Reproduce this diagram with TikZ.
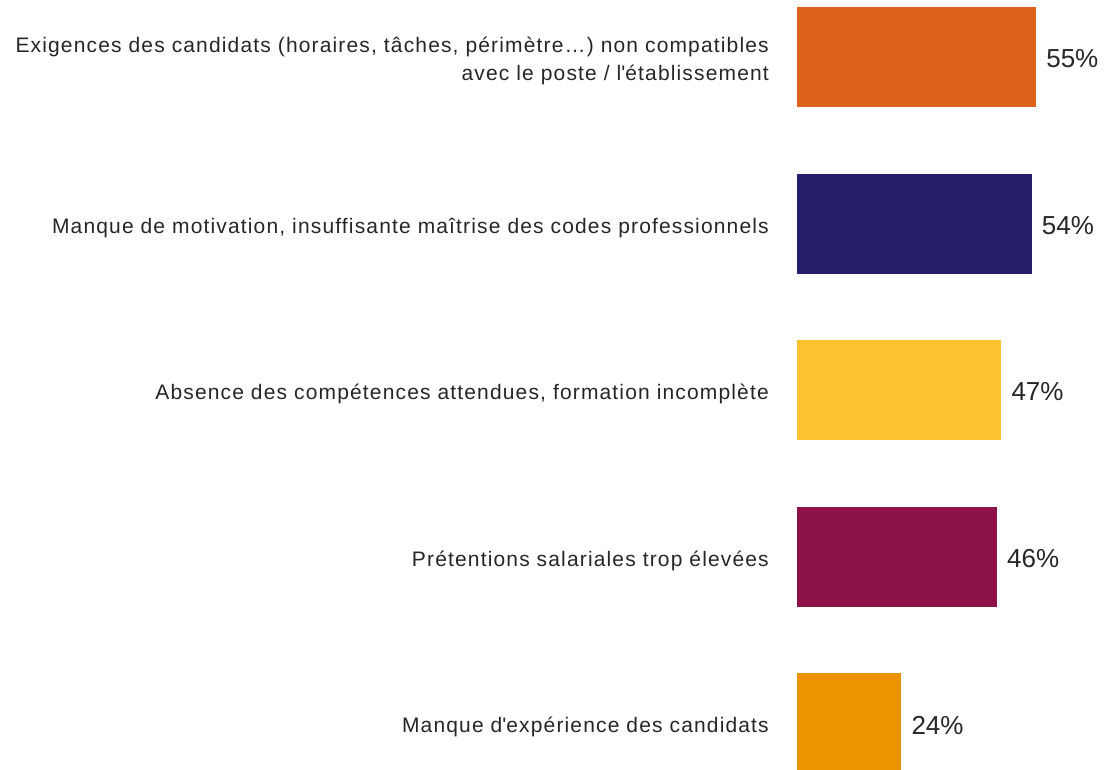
\documentclass[tikz,border=0pt]{standalone}
\usepackage{fontspec}
\setmainfont{Liberation Sans}
\newfontfamily\labfont{Liberation Sans}[LetterSpace=5.5]
\usetikzlibrary{positioning}
\definecolor{barA}{HTML}{DE611A}
\definecolor{barB}{HTML}{261E6A}
\definecolor{barC}{HTML}{FDC232}
\definecolor{barD}{HTML}{8C1248}
\definecolor{barE}{HTML}{EC9300}
\definecolor{txt}{HTML}{262626}
\begin{document}
\begin{tikzpicture}[x=1pt,y=-1pt,
    bar/.style={inner sep=0pt,outer sep=0pt,minimum height=100pt,anchor=north west},
    lab/.style={inner sep=0pt,align=right,text=txt,yshift=-4pt,font=\labfont\fontsize{21}{28}\selectfont},
    pct/.style={inner sep=0pt,text=txt,yshift=-2pt,font=\fontsize{26}{30}\selectfont}]
        \useasboundingbox(0,0)rectangle(1107,770);
        \foreach \i/\t/\p/\c/\l in {1/7/55/barA/{Exigences des candidats (horaires, tâches, périmètre…) non compatibles\\avec le poste / l\textquotesingle établissement},
            2/174/54/barB/{Manque de motivation, insuffisante maîtrise des codes professionnels},
            3/340/47/barC/{Absence des compétences attendues, formation incomplète},
            4/507/46/barD/{Prétentions salariales trop élevées},
            5/673/24/barE/{Manque d\textquotesingle expérience des candidats}}
        {
        \node[bar,fill=\c,minimum width={\p*4.347pt}](bar\i)at(797,\t){};
        \node[lab,left=28pt of bar\i](lab\i){\l};
        \node[pct,right=10pt of bar\i](pct\i){\p\%};
        }
    \end{tikzpicture}
\end{document}
